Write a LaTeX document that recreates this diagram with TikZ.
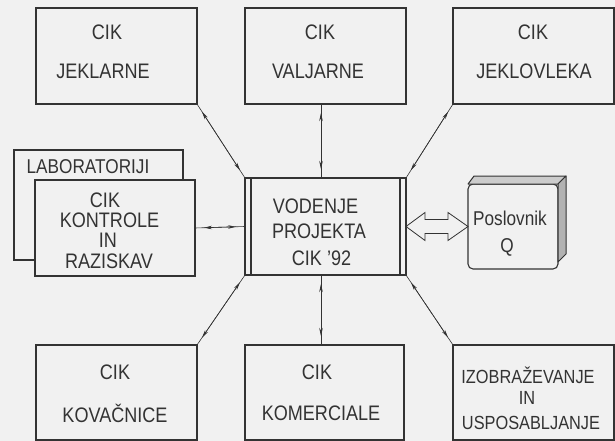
\documentclass[tikz,border=0pt]{standalone}
\usepackage{fontspec}
\setmainfont[FakeStretch=0.86]{Liberation Sans}
\usetikzlibrary{arrows.meta,calc}
\definecolor{bg}{HTML}{F1F1F1}
\definecolor{ink}{HTML}{333333}
\begin{document}
\begin{tikzpicture}[x=1pt,y=-1pt,
  box/.style={draw=ink, line width=1.3pt, fill=bg, inner sep=0pt, outer sep=0pt},
  lbl/.style={text=ink, font=\fontsize{21}{21}\selectfont, inner sep=0pt},
  slbl/.style={text=ink, font=\fontsize{19}{19}\selectfont, inner sep=0pt},
  conn/.style={draw=ink, line width=0.6pt},
  tips/.style={draw=ink, line width=0.6pt, {Stealth[length=8pt,width=3.5pt]}-{Stealth[length=8pt,width=3.5pt]}, shorten <=9pt, shorten >=9pt}]
\path[use as bounding box, fill=bg] (0,0) rectangle (615,441);

% boxes
\node[box, minimum width=161pt, minimum height=96pt] (b1) at (116.5,56) {};
\node[box, minimum width=161pt, minimum height=96pt] (b2) at (325.5,56) {};
\node[box, minimum width=161pt, minimum height=96pt] (b3) at (533.5,56) {};
\node[box, minimum width=161pt, minimum height=95pt] (b4) at (116.5,392.5) {};
\node[box, minimum width=159pt, minimum height=95pt] (b5) at (324.5,392.5) {};
\node[box, minimum width=161pt, minimum height=95pt] (b6) at (533.5,392.5) {};
\node[box, minimum width=169pt, minimum height=110pt] (lab) at (98.5,205) {};
\node[box, minimum width=160pt, minimum height=96pt] (k) at (115,228) {};
\node[box, minimum width=161pt, minimum height=97pt] (c) at (325.5,226.5) {};
\draw[ink, line width=1.3pt] ([xshift=6pt]c.north west) -- ([xshift=6pt]c.south west);
\draw[ink, line width=1.3pt] ([xshift=-6pt]c.north east) -- ([xshift=-6pt]c.south east);

% book
\node[box, line width=1.1pt, rounded corners=5pt, minimum width=90pt, minimum height=85pt] (book) at (513,226.5) {};
\filldraw[fill=gray!40, draw=ink, line width=1pt, line join=round] (book.north west) -- ++(6,-8) -- ++(92,0) -- (book.north east) -- cycle;
\filldraw[fill=gray!60, draw=ink, line width=1pt, line join=round] (book.north east) -- ++(8,-8) -- ++(0,78) -- ++(-8,8) -- cycle;

% texts
\node[lbl] (t1a) at (107,32) {CIK};
\node[lbl] (t1b) at (103,71) {JEKLARNE};
\node[lbl] (t2a) at (320,32) {CIK};
\node[lbl] (t2b) at (318,71) {VALJARNE};
\node[lbl] (t3a) at (533,32) {CIK};
\node[lbl] (t3b) at (534,71) {JEKLOVLEKA};
\node[lbl] (t4a) at (115,372) {CIK};
\node[lbl] (t4b) at (115,413) {KOVAČNICE};
\node[lbl] (t5a) at (317,372) {CIK};
\node[lbl] (t5b) at (321,413) {KOMERCIALE};
\node[slbl] (t6a) at (528,375) {IZOBRAŽEVANJE};
\node[slbl] (t6b) at (527,398) {IN};
\node[slbl] (t6c) at (531,423) {USPOSABLJANJE};
\node[lbl, font=\fontsize{20}{20}\selectfont] (tl) at (88,167) {LABORATORIJI};
\node[lbl] (tka) at (105,200) {CIK};
\node[lbl] (tkb) at (109.5,220) {KONTROLE};
\node[lbl] (tkc) at (108,240) {IN};
\node[lbl] (tkd) at (109,261) {RAZISKAV};
\node[lbl] (tca) at (315.5,206) {VODENJE};
\node[lbl] (tcb) at (319,231) {PROJEKTA};
\node[lbl] (tcc) at (321.5,258) {CIK '92};
\node[lbl, font=\fontsize{20}{20}\selectfont] (tba) at (510,218) {Poslovnik};
\node[lbl, font=\fontsize{20}{20}\selectfont] (tbb) at (507,247) {Q};

% connectors
\draw[conn] (b1.south east) -- (c.north west);
\draw[tips] (b1.south east) -- (c.north west);
\draw[conn] ([xshift=-4.5pt]b2.south) -- ([xshift=-4.5pt]c.north);
\draw[tips] ([xshift=-4.5pt]b2.south) -- ([xshift=-4.5pt]c.north);
\draw[conn] (b3.south west) -- (c.north east);
\draw[tips] (b3.south west) -- (c.north east);
\draw[conn] (k.east) -- (c.west);
\draw[tips] (k.east) -- (c.west);
\draw[conn] (b4.north east) -- (c.south west);
\draw[tips] (b4.north east) -- (c.south west);
\draw[conn] ([xshift=-3.5pt]b5.north) -- ([xshift=-4.5pt]c.south);
\draw[tips] ([xshift=-3.5pt]b5.north) -- ([xshift=-4.5pt]c.south);
\draw[conn] (b6.north west) -- (c.south east);
\draw[tips] (b6.north west) -- (c.south east);

% hollow double arrow
\draw[ink, line width=0.8pt, fill=bg, line join=miter] (c.east) -- ++(19,-14) -- ++(0,7) -- ++(23,0) -- ++(0,-7) -- (book.west) -- ++(-20,14) -- ++(0,-7) -- ++(-23,0) -- ++(0,7) -- cycle;
\end{tikzpicture}
\end{document}
